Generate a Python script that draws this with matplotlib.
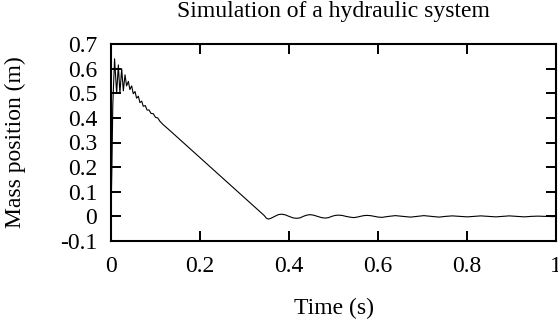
import matplotlib
matplotlib.use("Agg")
import matplotlib.pyplot as plt

# time (s) and mass position (m)
time = [0.0, 0.002, 0.004, 0.008, 0.0127, 0.0165, 0.020, 0.024, 0.0277,
        0.0315, 0.035, 0.039, 0.0425, 0.0465, 0.050, 0.054, 0.0575,
        0.0615, 0.065, 0.069, 0.0725, 0.077, 0.081, 0.0855, 0.090,
        0.095, 0.100, 0.105, 0.110, 0.1175, 0.129, 0.344, 0.349, 0.3535,
        0.359, 0.368, 0.376, 0.3835, 0.392, 0.400, 0.409, 0.417,
        0.425, 0.432, 0.440, 0.447, 0.455, 0.464, 0.473, 0.481,
        0.489, 0.496, 0.504, 0.511, 0.519, 0.528, 0.537, 0.545,
        0.553, 0.560, 0.568, 0.575, 0.583, 0.592, 0.601, 0.609,
        0.624, 0.639, 0.656, 0.673, 0.688, 0.703, 0.720, 0.737,
        0.752, 0.767, 0.784, 0.801, 0.816, 0.831, 0.848, 0.865,
        0.880, 0.895, 0.912, 0.929, 0.944, 0.959, 0.976, 0.993, 1.0]
position = [0.0, 0.20, 0.45, 0.64, 0.50, 0.615, 0.50, 0.60, 0.51,
            0.575, 0.53, 0.548, 0.515, 0.530, 0.498, 0.507, 0.480,
            0.488, 0.462, 0.468, 0.447, 0.450, 0.432, 0.432, 0.418,
            0.417, 0.402, 0.400, 0.386, 0.372, 0.354, 0.004, -0.007, -0.011,
            -0.008, 0.0, 0.007, 0.009, 0.006, 0.0, -0.006, -0.008,
            -0.006, 0.0, 0.005, 0.007, 0.005, 0.0, -0.005, -0.007,
            -0.005, 0.0, 0.004, 0.005, 0.004, 0.0, -0.003, -0.005,
            -0.003, 0.0, 0.003, 0.004, 0.003, 0.0, -0.003, -0.004,
            0.0, 0.003, 0.0, -0.003, 0.0, 0.003, 0.0, -0.003,
            0.0, 0.002, 0.0, -0.002, 0.0, 0.002, 0.0, -0.002,
            0.0, 0.002, 0.0, -0.002, 0.0, 0.001, 0.0, -0.001, 0.0]

xticks = [0, 0.2, 0.4, 0.6, 0.8, 1]
xticklabels = ["0", "0.2", "0.4", "0.6", "0.8", "1"]
yticks = [-0.1, 0, 0.1, 0.2, 0.3, 0.4, 0.5, 0.6, 0.7]
yticklabels = ["-0.1", "0", "0.1", "0.2", "0.3", "0.4", "0.5", "0.6", "0.7"]

plt.rcParams['font.family'] = ['Liberation Serif', 'DejaVu Serif']
fs = 17

fig = plt.figure(figsize=(5.58, 3.22), dpi=100)
ax = fig.add_axes([111/558, 1 - 241/322, (556-111)/558, (241-44)/322])

ax.plot(time, position, color='black', linewidth=0.8)

ax.set_xlim(0, 1)
ax.set_ylim(-0.1, 0.7)
ax.set_xticks(xticks)
ax.set_xticklabels(xticklabels)
ax.set_yticks(yticks)
ax.set_yticklabels(yticklabels)
ax.tick_params(direction='in', length=7, width=1.4, top=True, right=True,
               labelsize=fs)
ax.tick_params(axis='x', pad=11)
ax.tick_params(axis='y', pad=10)
for s in ax.spines.values():
    s.set_linewidth(1.5)

fig.text(333/558, 1 - 1/322, "Simulation of a hydraulic system",
         ha='center', va='top', fontsize=fs)
fig.text(334/558, 1 - 308/322, "Time (s)", ha='center', va='center', fontsize=fs)
fig.text(15/558, 1 - 142/322, "Mass position (m)", ha='center', va='center',
         rotation=90, fontsize=fs)

fig.savefig("out.png", dpi=100)
